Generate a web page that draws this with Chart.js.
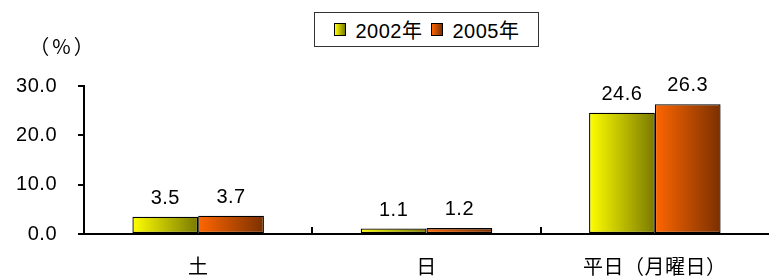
<!DOCTYPE html>
<html>
<head>
<meta charset="utf-8">
<script src="https://cdn.jsdelivr.net/npm/chart.js@4"></script>
<style>
  html, body { margin: 0; padding: 0; background: #fff; }
  #wrap { position: relative; width: 769px; height: 280px; }
  #legend {
    position: absolute; left: 314px; top: 12px; width: 223px; height: 33px;
    border: 1.5px solid #333; background: #fff;
    display: flex; align-items: center; justify-content: center;
    font: 20px "Liberation Sans", "Noto Sans CJK JP", sans-serif; letter-spacing: 0.5px;
  }
  #legend .item { display: flex; align-items: center; margin: 0 4px; }
  #legend .box { width: 10px; height: 11px; border: 1px solid #000; margin-right: 10px; }
  #unit {
    position: absolute; left: 28px; top: 31px; width: 70px; text-align: center;
    font: 20px "Noto Sans CJK JP", sans-serif; letter-spacing: 3px;
  }
</style>
</head>
<body>
<div id="wrap">
  <canvas id="c" width="769" height="280"></canvas>
  <div id="unit">（%）</div>
  <div id="legend"></div>
</div>
<script>
const CATEGORIES = ['土', '日', '平日（月曜日）'];
const SERIES_NAMES = ['2002年', '2005年'];
const VALUES_2002 = [3.5, 1.1, 24.6];
const VALUES_2005 = [3.7, 1.2, 26.3];
const Y_TICKS = [0, 10, 20, 30];

// left -> right gradient stops per series
const GRADS = [['#ffff00', '#7a7a00'], ['#ff6600', '#7a3000']];
const FONT = '"Liberation Sans", "Noto Sans CJK JP", sans-serif';

function el(id){ return document.getElementById(id); }

// html legend
SERIES_NAMES.forEach((name, i) => {
  const d = document.createElement('span');
  d.className = 'item';
  d.innerHTML = `<span class="box" style="background:linear-gradient(to right, ${GRADS[i][0]}, ${GRADS[i][1]})"></span>${name}`;
  el('legend').appendChild(d);
});

const barGradients = {
  id: 'barGradients',
  beforeDatasetsDraw(chart) {
    const ctx = chart.ctx;
    chart.data.datasets.forEach((ds, di) => {
      chart.getDatasetMeta(di).data.forEach(bar => {
        const g = ctx.createLinearGradient(bar.x - bar.width / 2, 0, bar.x + bar.width / 2, 0);
        g.addColorStop(0, GRADS[di][0]);
        g.addColorStop(1, GRADS[di][1]);
        bar.options = Object.assign({}, bar.options, { backgroundColor: g });
      });
    });
  }
};

const valueLabels = {
  id: 'valueLabels',
  afterDatasetsDraw(chart) {
    const ctx = chart.ctx;
    ctx.save();
    ctx.font = '20px ' + FONT;
    ctx.letterSpacing = '0.5px';
    ctx.fillStyle = '#000';
    ctx.textAlign = 'center';
    ctx.textBaseline = 'alphabetic';
    chart.data.datasets.forEach((ds, di) => {
      chart.getDatasetMeta(di).data.forEach((bar, i) => {
        ctx.fillText(ds.data[i].toFixed(1), bar.x, bar.y - 13);
      });
    });
    ctx.restore();
  }
};

// x tick marks between categories, pointing up into the plot
const xInnerTicks = {
  id: 'xInnerTicks',
  afterDraw(chart) {
    const xs = chart.scales.x, ctx = chart.ctx;
    const b = chart.chartArea.bottom;
    ctx.save();
    ctx.strokeStyle = '#000';
    ctx.lineWidth = 2;
    for (let i = 1; i < CATEGORIES.length; i++) {
      const x = Math.round((xs.getPixelForValue(i - 1) + xs.getPixelForValue(i)) / 2);
      ctx.beginPath();
      ctx.moveTo(x, b - 7);
      ctx.lineTo(x, b);
      ctx.stroke();
    }
    ctx.restore();
  }
};

const spacing = {
  id: 'spacing',
  beforeDraw(chart) { chart.ctx.letterSpacing = '0.5px'; }
};

new Chart(el('c'), {
  type: 'bar',
  data: {
    labels: CATEGORIES,
    datasets: [
      { label: SERIES_NAMES[0], data: VALUES_2002, backgroundColor: GRADS[0][0] },
      { label: SERIES_NAMES[1], data: VALUES_2005, backgroundColor: GRADS[1][0] }
    ]
  },
  options: {
    responsive: false,
    animation: false,
    devicePixelRatio: 1,
    layout: { padding: { top: 86, right: 0, bottom: 0, left: 0 } },
    datasets: {
      bar: { categoryPercentage: 0.576, barPercentage: 1, borderColor: '#000', borderWidth: 1.3, borderSkipped: false }
    },
    plugins: { legend: { display: false }, tooltip: { enabled: false } },
    scales: {
      x: {
        grid: { display: false, drawTicks: false },
        border: { display: true, color: '#000', width: 2 },
        ticks: { color: '#000', padding: 22, font: { size: 20, family: FONT }, maxRotation: 0 },
        afterFit(s) { s.height = 46; }
      },
      y: {
        min: Y_TICKS[0], max: Y_TICKS[Y_TICKS.length - 1],
        afterBuildTicks(s) { s.ticks = Y_TICKS.map(v => ({ value: v })); },
        grid: { drawOnChartArea: false, drawTicks: true, tickLength: 6, color: '#000', lineWidth: 2 },
        border: { display: true, color: '#000', width: 2 },
        ticks: { color: '#000', padding: 21, font: { size: 20, family: FONT }, callback: v => v.toFixed(1) },
        afterFit(s) { s.width = 84; }
      }
    }
  },
  plugins: [spacing, barGradients, valueLabels, xInnerTicks]
});
</script>
</body>
</html>
